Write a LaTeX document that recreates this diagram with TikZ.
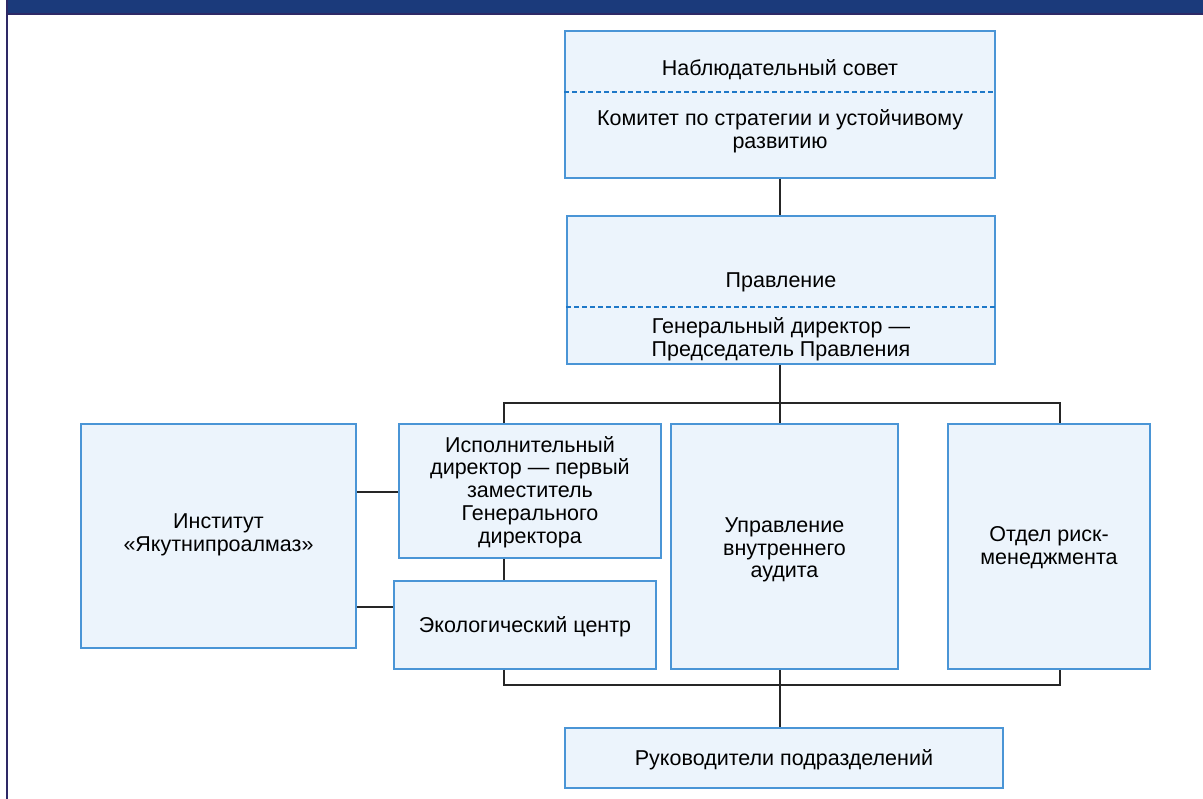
\documentclass[tikz,border=0pt]{standalone}
\usepackage{fontspec}
\setmainfont{Liberation Sans}
\definecolor{headblue}{HTML}{1B3A7B}
\definecolor{darkline}{HTML}{2E2966}
\definecolor{boxfill}{HTML}{ECF4FC}
\definecolor{boxline}{HTML}{4A95D6}
\definecolor{dashblue}{HTML}{1E78C8}
\begin{document}
\begin{tikzpicture}[x=1pt,y=-1pt,
  orgbox/.style={draw=boxline, fill=boxfill, line width=1.6pt, inner sep=0pt},
  txt/.style={align=center, inner sep=0pt, font=\fontsize{21.5}{22.8}\selectfont, text=black},
  conn/.style={draw=black!85, line width=1.2pt},
  sep/.style={draw=dashblue, line width=1.2pt, dash pattern=on 5pt off 3pt}]
\useasboundingbox (0,0) rectangle (1203,799);
% header and left border
\fill[headblue] (7,0) rectangle (1203,13);
\fill[darkline] (7,13) rectangle (1203,15);
\fill[darkline] (6,0) rectangle (8,799);

% boxes
\node[orgbox, minimum width=430pt, minimum height=147pt] (top) at (780,104.5) {};
\node[orgbox, minimum width=428pt, minimum height=148pt] (prav) at (781,290) {};
\node[orgbox, minimum width=262pt, minimum height=134pt] (isp) at (530,491) {};
\node[orgbox, minimum width=227pt, minimum height=245pt] (upr) at (784.5,546.5) {};
\node[orgbox, minimum width=202pt, minimum height=245pt] (otd) at (1049,546.5) {};
\node[orgbox, minimum width=275pt, minimum height=224pt] (inst) at (218.5,536) {};
\node[orgbox, minimum width=262pt, minimum height=88pt] (eco) at (525,625) {};
\node[orgbox, minimum width=438pt, minimum height=60pt] (ruk) at (784,758) {};

% dashed separators
\coordinate (topsep) at (0,92);
\coordinate (pravsep) at (0,307);
\draw[sep] (top.west |- topsep) -- (top.east |- topsep);
\draw[sep] (prav.west |- pravsep) -- (prav.east |- pravsep);

% texts
\node[txt] (t1) at (780,70) {Наблюдательный совет};
\node[txt] (t2) at (780,131) {Комитет по стратегии и устойчивому\\развитию};
\node[txt] (t3) at (781,282) {Правление};
\begin{scope}
\clip (prav.south west) rectangle (prav.north east);
\node[txt] (t4) at (781,339) {Генеральный директор —\\Председатель Правления};
\end{scope}
\node[txt] (t5) at (530,492) {Исполнительный\\директор — первый\\заместитель\\Генерального\\директора};
\node[txt] (t6) at (784.5,550) {Управление\\внутреннего\\аудита};
\node[txt] (t7) at (1049,548) {Отдел риск-\\менеджмента};
\node[txt] (t8) at (218.5,535) {Институт\\«Якутнипроалмаз»};
\node[txt] (t9) at (525,627) {Экологический центр};
\node[txt] (t10) at (784,760) {Руководители подразделений};

% connectors
\coordinate (bl) at (504,403);
\coordinate (bm) at (780,403);
\coordinate (br) at (1060,403);
\coordinate (cl) at (504,685);
\coordinate (cm) at (780,685);
\coordinate (cr) at (1060,685);
\coordinate (y1) at (0,492);
\coordinate (y2) at (0,607);
\draw[conn] (bm |- top.south) -- (bm |- prav.north);
\draw[conn] (bm |- prav.south) -- (bm);
\draw[conn] (bl |- isp.north) -- (bl) -- (br) -- (br |- otd.north);
\draw[conn] (bm) -- (bm |- upr.north);
\draw[conn] (cl |- eco.south) -- (cl) -- (cr) -- (cr |- otd.south);
\draw[conn] (cm |- upr.south) -- (cm |- ruk.north);
\draw[conn] (bl |- isp.south) -- (bl |- eco.north);
\draw[conn] (inst.east |- y1) -- (isp.west |- y1);
\draw[conn] (inst.east |- y2) -- (eco.west |- y2);
\end{tikzpicture}
\end{document}
